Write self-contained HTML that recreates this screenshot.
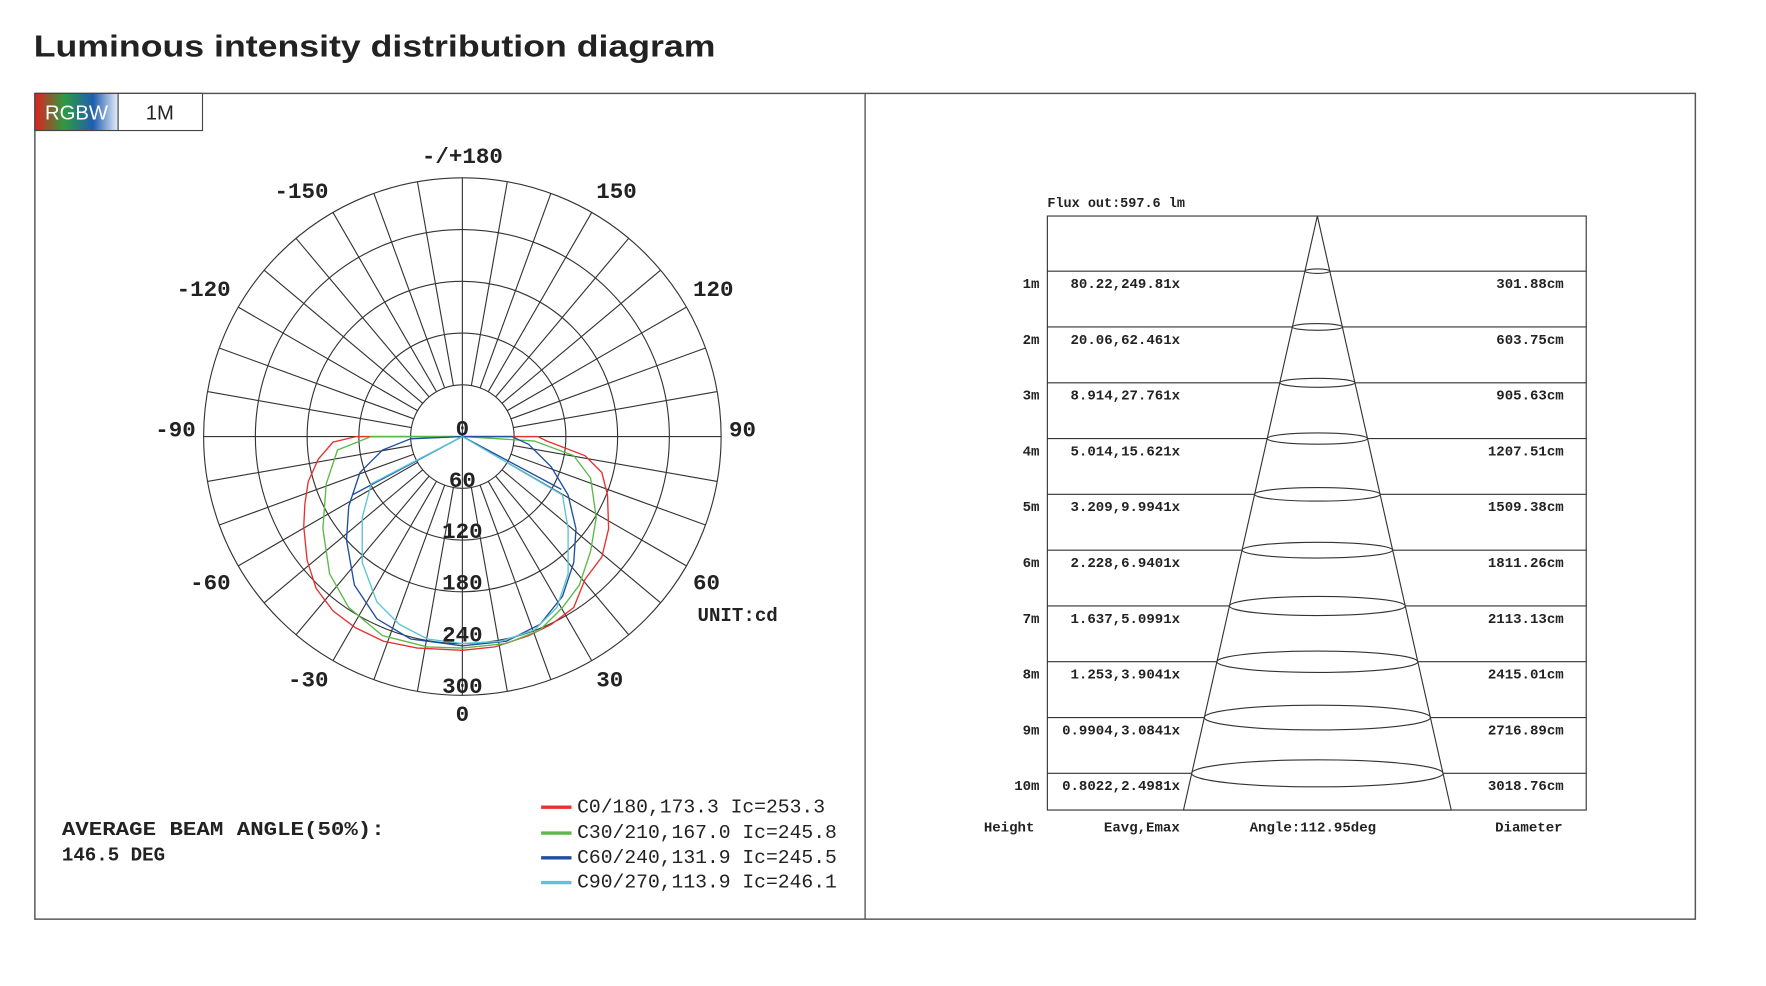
<!DOCTYPE html>
<html><head><meta charset="utf-8"><style>
html,body{margin:0;padding:0;background:#fff;}
svg{display:block;}
.m{font-family:"Liberation Mono",monospace;font-weight:bold;fill:#222;}
</style></head><body>
<svg width="1766" height="986" viewBox="0 0 1569.8 876.4" xmlns="http://www.w3.org/2000/svg">
<defs>
<linearGradient id="rg" x1="0" x2="1" y1="0" y2="0">
<stop offset="0" stop-color="#e02020"/><stop offset="0.35" stop-color="#2e9a40"/><stop offset="0.7" stop-color="#1f5fb0"/><stop offset="1" stop-color="#e8eef8"/>
</linearGradient>
</defs>
<text x="30" y="50" font-family="Liberation Sans, sans-serif" font-weight="bold" font-size="27" fill="#222" textLength="606" lengthAdjust="spacingAndGlyphs">Luminous intensity distribution diagram</text>
<rect x="31" y="83" width="1476" height="734" fill="none" stroke="#555" stroke-width="1.3"/>
<line x1="769" y1="83" x2="769" y2="817" stroke="#555" stroke-width="1.2"/>
<rect x="31" y="83" width="74" height="33" fill="url(#rg)" stroke="#444" stroke-width="1"/>
<rect x="105" y="83" width="75" height="33" fill="#fff" stroke="#444" stroke-width="1"/>
<text x="68" y="106" text-anchor="middle" font-family="Liberation Sans, sans-serif" font-size="18" fill="#fff">RGBW</text>
<text x="142" y="106" text-anchor="middle" font-family="Liberation Sans, sans-serif" font-size="18" fill="#222">1M</text>

<g transform="translate(411,388)" stroke="#333" stroke-width="1" fill="none">
<circle r="46"/><circle r="92"/><circle r="138"/><circle r="184"/><circle r="230"/>
<line x1="-230" y1="0" x2="230" y2="0"/><line x1="0" y1="-230" x2="0" y2="230"/>
<g>
<line x1="0" y1="46" x2="0" y2="230" transform="rotate(10)"/>
<line x1="0" y1="46" x2="0" y2="230" transform="rotate(20)"/>
<line x1="0" y1="46" x2="0" y2="230" transform="rotate(30)"/>
<line x1="0" y1="46" x2="0" y2="230" transform="rotate(40)"/>
<line x1="0" y1="46" x2="0" y2="230" transform="rotate(50)"/>
<line x1="0" y1="46" x2="0" y2="230" transform="rotate(60)"/>
<line x1="0" y1="46" x2="0" y2="230" transform="rotate(70)"/>
<line x1="0" y1="46" x2="0" y2="230" transform="rotate(80)"/>
<line x1="0" y1="46" x2="0" y2="230" transform="rotate(100)"/>
<line x1="0" y1="46" x2="0" y2="230" transform="rotate(110)"/>
<line x1="0" y1="46" x2="0" y2="230" transform="rotate(120)"/>
<line x1="0" y1="46" x2="0" y2="230" transform="rotate(130)"/>
<line x1="0" y1="46" x2="0" y2="230" transform="rotate(140)"/>
<line x1="0" y1="46" x2="0" y2="230" transform="rotate(150)"/>
<line x1="0" y1="46" x2="0" y2="230" transform="rotate(160)"/>
<line x1="0" y1="46" x2="0" y2="230" transform="rotate(170)"/>
<line x1="0" y1="46" x2="0" y2="230" transform="rotate(190)"/>
<line x1="0" y1="46" x2="0" y2="230" transform="rotate(200)"/>
<line x1="0" y1="46" x2="0" y2="230" transform="rotate(210)"/>
<line x1="0" y1="46" x2="0" y2="230" transform="rotate(220)"/>
<line x1="0" y1="46" x2="0" y2="230" transform="rotate(230)"/>
<line x1="0" y1="46" x2="0" y2="230" transform="rotate(240)"/>
<line x1="0" y1="46" x2="0" y2="230" transform="rotate(250)"/>
<line x1="0" y1="46" x2="0" y2="230" transform="rotate(260)"/>
<line x1="0" y1="46" x2="0" y2="230" transform="rotate(280)"/>
<line x1="0" y1="46" x2="0" y2="230" transform="rotate(290)"/>
<line x1="0" y1="46" x2="0" y2="230" transform="rotate(300)"/>
<line x1="0" y1="46" x2="0" y2="230" transform="rotate(310)"/>
<line x1="0" y1="46" x2="0" y2="230" transform="rotate(320)"/>
<line x1="0" y1="46" x2="0" y2="230" transform="rotate(330)"/>
<line x1="0" y1="46" x2="0" y2="230" transform="rotate(340)"/>
<line x1="0" y1="46" x2="0" y2="230" transform="rotate(350)"/>
</g>
<g stroke-width="1.2">
<polyline stroke="#e8312f" points="0,0 -94,0 -115,5 -128,20 -137,40 -140,60 -141,80 -138,110 -130,135 -115,155 -95,170 -70,182 -40,188 0,190 29,187 59,177 79,167 99,152 109,127 124,107 130,82 129,52 124,32 109,17 75,4 67,0 0,0"/>
<polyline stroke="#5cb84a" points="0,0 -81,0 -111,12 -121,42 -124,82 -118,122 -101,152 -71,177 -31,187 0,188 39,184 69,172 89,152 104,132 114,102 119,72 114,37 99,17 64,4 0,0"/>
<polyline stroke="#1f4fa0" points="-98,52 0,0 -46,2 -71,12 -91,32 -101,62 -103,92 -96,132 -76,162 -46,180 0,186 39,182 69,167 89,142 99,112 101,82 94,52 79,27 59,7 44,0 0,0 88,47"/>
<polyline stroke="#5bc4d6" points="0,0 -81,42 -89,72 -89,112 -76,147 -56,167 -31,180 0,184 34,182 64,172 84,152 94,122 94,82 89,52 0,0"/>
</g>
</g>

<g class="m" font-size="20" text-anchor="middle">
<text x="411" y="145">-/+180</text>
<text x="268" y="176">-150</text><text x="548" y="176">150</text>
<text x="181" y="263">-120</text><text x="634" y="263">120</text>
<text x="156" y="388">-90</text><text x="660" y="388">90</text>
<text x="187" y="524">-60</text><text x="628" y="524">60</text>
<text x="274" y="610">-30</text><text x="542" y="610">30</text>
<text x="411" y="641">0</text>
<text x="411" y="387">0</text>
<text x="411" y="433">60</text>
<text x="411" y="478">120</text>
<text x="411" y="524">180</text>
<text x="411" y="570">240</text>
<text x="411" y="616">300</text>
</g>
<text class="m" x="620" y="552" font-size="17">UNIT:cd</text>

<g class="m" font-size="17">
<text x="55" y="742" textLength="287" lengthAdjust="spacingAndGlyphs">AVERAGE BEAM ANGLE(50%):</text>
<text x="55" y="765">146.5 DEG</text>
</g>
<g font-family="Liberation Mono, monospace" font-size="17.5" fill="#222">
<rect x="481" y="716" width="27" height="3" fill="#e8312f"/><text x="513" y="722">C0/180,173.3 Ic=253.3</text>
<rect x="481" y="739" width="27" height="3" fill="#5cb84a"/><text x="513" y="745">C30/210,167.0 Ic=245.8</text>
<rect x="481" y="761" width="27" height="3" fill="#1f4fa0"/><text x="513" y="767">C60/240,131.9 Ic=245.5</text>
<rect x="481" y="783" width="27" height="3" fill="#5bc4d6"/><text x="513" y="789">C90/270,113.9 Ic=246.1</text>
</g>

<text class="m" x="931" y="184" font-size="12">Flux out:597.6 lm</text>
<g stroke="#333" stroke-width="1" fill="none">
<rect x="931" y="192" width="479" height="528"/>
<line x1="931" y1="241" x2="1410" y2="241"/>
<line x1="931" y1="290.6" x2="1410" y2="290.6"/>
<line x1="931" y1="340.2" x2="1410" y2="340.2"/>
<line x1="931" y1="389.8" x2="1410" y2="389.8"/>
<line x1="931" y1="439.4" x2="1410" y2="439.4"/>
<line x1="931" y1="489" x2="1410" y2="489"/>
<line x1="931" y1="538.6" x2="1410" y2="538.6"/>
<line x1="931" y1="588.2" x2="1410" y2="588.2"/>
<line x1="931" y1="637.8" x2="1410" y2="637.8"/>
<line x1="931" y1="687.4" x2="1410" y2="687.4"/>
</g>
<g stroke="#333" stroke-width="1" fill="#fff">
<polygon points="1171,192 1052,720 1290,720" fill="none"/>
<ellipse cx="1171" cy="241" rx="11" ry="2"/>
<ellipse cx="1171" cy="290.6" rx="22.2" ry="3"/>
<ellipse cx="1171" cy="340.2" rx="33.4" ry="4"/>
<ellipse cx="1171" cy="389.8" rx="44.6" ry="5"/>
<ellipse cx="1171" cy="439.4" rx="55.8" ry="6"/>
<ellipse cx="1171" cy="489" rx="66.9" ry="7"/>
<ellipse cx="1171" cy="538.6" rx="78.1" ry="8.5"/>
<ellipse cx="1171" cy="588.2" rx="89.3" ry="9.5"/>
<ellipse cx="1171" cy="637.8" rx="100.5" ry="11"/>
<ellipse cx="1171" cy="687.4" rx="111.7" ry="12"/>
</g>
<g class="m" font-size="12.5" text-anchor="end">
<text x="924" y="256">1m</text><text x="1049" y="256">80.22,249.81x</text><text x="1390" y="256">301.88cm</text>
<text x="924" y="305.6">2m</text><text x="1049" y="305.6">20.06,62.461x</text><text x="1390" y="305.6">603.75cm</text>
<text x="924" y="355.2">3m</text><text x="1049" y="355.2">8.914,27.761x</text><text x="1390" y="355.2">905.63cm</text>
<text x="924" y="404.8">4m</text><text x="1049" y="404.8">5.014,15.621x</text><text x="1390" y="404.8">1207.51cm</text>
<text x="924" y="454.4">5m</text><text x="1049" y="454.4">3.209,9.9941x</text><text x="1390" y="454.4">1509.38cm</text>
<text x="924" y="504">6m</text><text x="1049" y="504">2.228,6.9401x</text><text x="1390" y="504">1811.26cm</text>
<text x="924" y="553.6">7m</text><text x="1049" y="553.6">1.637,5.0991x</text><text x="1390" y="553.6">2113.13cm</text>
<text x="924" y="603.2">8m</text><text x="1049" y="603.2">1.253,3.9041x</text><text x="1390" y="603.2">2415.01cm</text>
<text x="924" y="652.8">9m</text><text x="1049" y="652.8">0.9904,3.0841x</text><text x="1390" y="652.8">2716.89cm</text>
<text x="924" y="702.4">10m</text><text x="1049" y="702.4">0.8022,2.4981x</text><text x="1390" y="702.4">3018.76cm</text>
</g>
<g class="m" font-size="12.5" text-anchor="middle">
<text x="897" y="739">Height</text>
<text x="1015" y="739">Eavg,Emax</text>
<text x="1167" y="739">Angle:112.95deg</text>
<text x="1359" y="739">Diameter</text>
</g>
</svg>
</body></html>
